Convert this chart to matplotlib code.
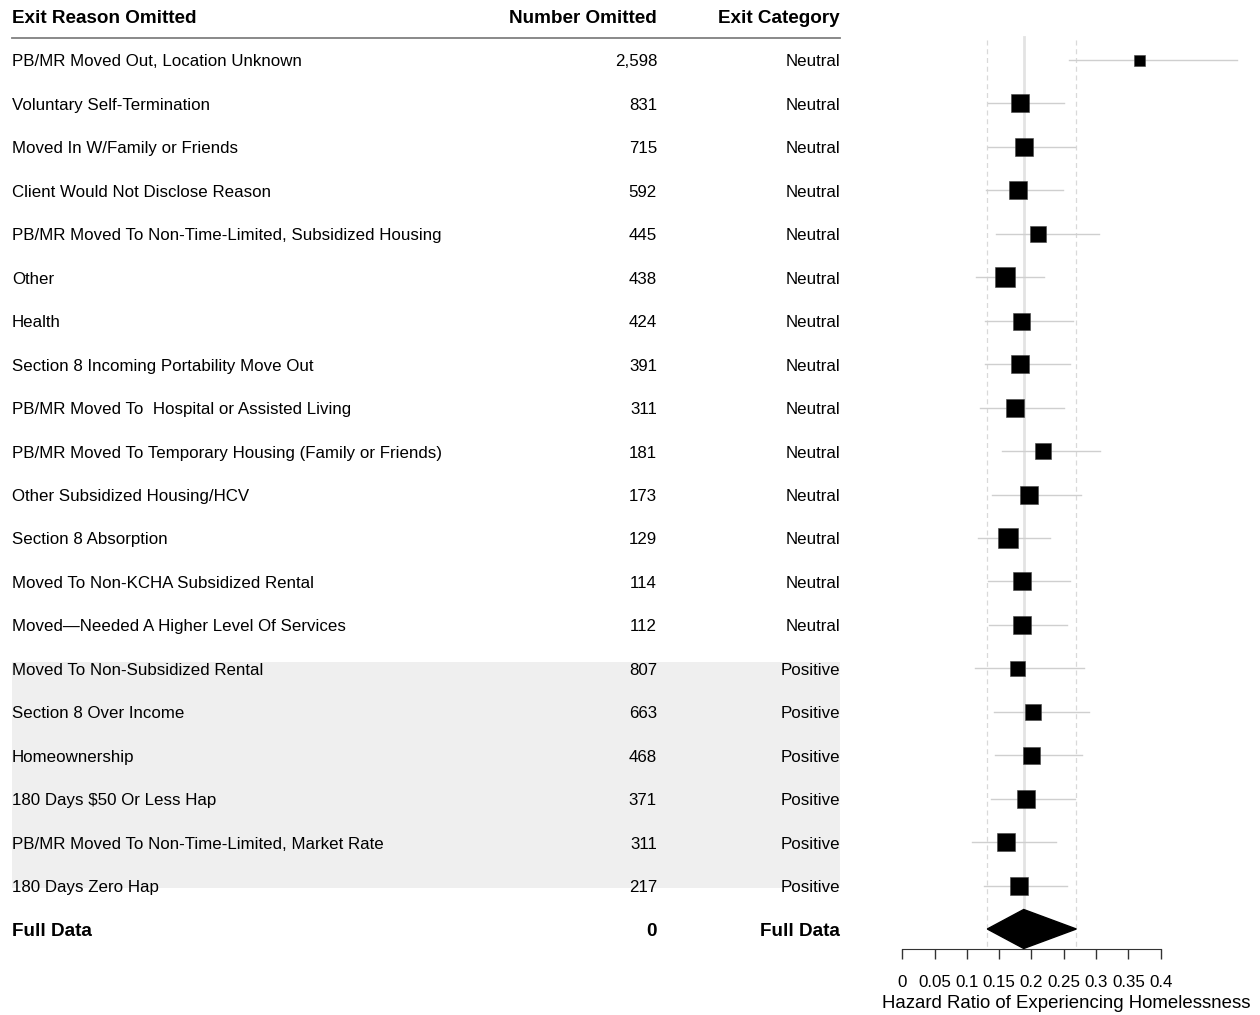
import matplotlib
matplotlib.use("Agg")
import matplotlib.pyplot as plt
from matplotlib.patches import Polygon, Rectangle

plt.rcParams["font.family"] = ["Liberation Sans", "DejaVu Sans"]

# --- data ---
reasons = [
    "PB/MR Moved Out, Location Unknown",
    "Voluntary Self-Termination",
    "Moved In W/Family or Friends",
    "Client Would Not Disclose Reason",
    "PB/MR Moved To Non-Time-Limited, Subsidized Housing",
    "Other",
    "Health",
    "Section 8 Incoming Portability Move Out",
    "PB/MR Moved To  Hospital or Assisted Living",
    "PB/MR Moved To Temporary Housing (Family or Friends)",
    "Other Subsidized Housing/HCV",
    "Section 8 Absorption",
    "Moved To Non-KCHA Subsidized Rental",
    "Moved\u2014Needed A Higher Level Of Services",
    "Moved To Non-Subsidized Rental",
    "Section 8 Over Income",
    "Homeownership",
    "180 Days $50 Or Less Hap",
    "PB/MR Moved To Non-Time-Limited, Market Rate",
    "180 Days Zero Hap",
]
n_omitted = ["2,598", "831", "715", "592", "445", "438", "424", "391", "311", "181",
             "173", "129", "114", "112", "807", "663", "468", "371", "311", "217"]
category = ["Neutral"] * 14 + ["Positive"] * 6

hr = [0.367, 0.183, 0.189, 0.179, 0.210, 0.159, 0.184, 0.182, 0.175, 0.218,
      0.196, 0.164, 0.186, 0.185, 0.177, 0.202, 0.200, 0.192, 0.160, 0.180]
lo = [0.258, 0.132, 0.132, 0.130, 0.145, 0.114, 0.128, 0.128, 0.121, 0.155,
      0.139, 0.117, 0.133, 0.134, 0.112, 0.142, 0.143, 0.137, 0.108, 0.127]
hi = [0.519, 0.250, 0.268, 0.249, 0.304, 0.220, 0.265, 0.259, 0.250, 0.306,
      0.276, 0.228, 0.259, 0.255, 0.281, 0.289, 0.278, 0.268, 0.238, 0.255]
weight = [11, 18.5, 17.5, 18.5, 15.5, 20, 17, 18, 18, 15.3,
          17.3, 19.3, 18, 18, 15, 15.5, 17, 17.7, 17.3, 18]

full_hr, full_lo, full_hi = 0.188, 0.1316, 0.2695
xticks = [0, 0.05, 0.1, 0.15, 0.2, 0.25, 0.3, 0.35, 0.4]
xticklabels = ["0", "0.05", "0.1", "0.15", "0.2", "0.25", "0.3", "0.35", "0.4"]

# --- layout helpers (pixel geometry of a 1260x1015 canvas) ---
W, H = 1260, 1015
DPI = 100
ROW0, STEP = 60, 43.45


def r(ypix):
    return (ypix - ROW0) / STEP


ylim = (r(H), r(0))
fs = 12.2     # body text
fsb = 13.6    # header / summary row
dy = 2 / STEP  # small nudge so text sits on the row like the reference

fig = plt.figure(figsize=(W / DPI, H / DPI), dpi=DPI)

# table part
tab = fig.add_axes([0, 0, 860 / W, 1])
tab.set_xlim(0, 860)
tab.set_ylim(*ylim)
tab.axis("off")

tab.add_patch(Rectangle((12, r(662)), 828, r(888) - r(662), facecolor="#efefef",
                        edgecolor="none", zorder=0))
tab.plot([12, 840], [r(38), r(38)], color="#808080", lw=1.3)

tab.text(12, r(17) + dy, "Exit Reason Omitted", fontsize=fsb, fontweight="bold", va="center", ha="left")
tab.text(657, r(17) + dy, "Number Omitted", fontsize=fsb, fontweight="bold", va="center", ha="right")
tab.text(840, r(17) + dy, "Exit Category", fontsize=fsb, fontweight="bold", va="center", ha="right")

for i, (a, b, c) in enumerate(zip(reasons, n_omitted, category)):
    tab.text(12, i + dy, a, fontsize=fs, va="center", ha="left")
    tab.text(657, i + dy, b, fontsize=fs, va="center", ha="right")
    tab.text(840, i + dy, c, fontsize=fs, va="center", ha="right")

nf = len(reasons)
tab.text(12, nf + dy, "Full Data", fontsize=fsb, fontweight="bold", va="center", ha="left")
tab.text(657, nf + dy, "0", fontsize=fsb, fontweight="bold", va="center", ha="right")
tab.text(840, nf + dy, "Full Data", fontsize=fsb, fontweight="bold", va="center", ha="right")

# forest part
x0, ppu = 902.3, 645.8
ax = fig.add_axes([860 / W, 0, 400 / W, 1])
ax.set_xlim((860 - x0) / ppu, (W - x0) / ppu)
ax.set_ylim(*ylim)

ytop, ybot = r(40), r(948)
ax.plot([full_hr, full_hr], [r(37), ybot], color="#e3e3e3", lw=2, zorder=1)
for xv in (full_lo, full_hi):
    ax.plot([xv, xv], [ytop, ybot], color="#d9d9d9", lw=0.9, ls=(0, (4, 3)), zorder=1)

for i in range(nf):
    ax.plot([lo[i], hi[i]], [i, i], color="#cfcfcf", lw=1, zorder=2)
    ax.plot(hr[i], i, marker="s", color="black", ms=weight[i] * 72 / DPI,
            mec="#444444", mew=0.4, zorder=3)

h = 19.5 / STEP
ax.add_patch(Polygon([(full_lo, nf), (full_hr, nf - h), (full_hi, nf), (full_hr, nf + h)],
                     closed=True, facecolor="black", edgecolor="black", zorder=3))

for s in ("top", "left", "right"):
    ax.spines[s].set_visible(False)
ax.spines["bottom"].set_position(("data", r(949)))
ax.spines["bottom"].set_bounds(0, 0.4)
ax.spines["bottom"].set_color("#333333")
ax.set_yticks([])
ax.set_xticks(xticks)
ax.set_xticklabels(xticklabels, fontsize=fs)
ax.tick_params(axis="x", direction="out", length=7.5, width=1, color="#333333", pad=11)
ax.patch.set_visible(False)

# slightly smaller than the reference so the whole title stays on the canvas
fig.text(882 / W, 1 - 1003 / H, "Hazard Ratio of Experiencing Homelessness",
         fontsize=13.4, ha="left", va="center")

fig.savefig("out.png", dpi=DPI)
